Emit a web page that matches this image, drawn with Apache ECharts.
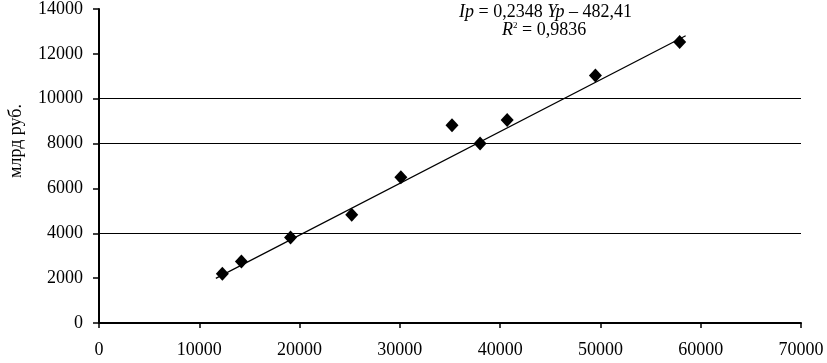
<!DOCTYPE html>
<html>
<head>
<meta charset="utf-8">
<script src="https://cdn.jsdelivr.net/npm/echarts@6/dist/echarts.min.js"></script>
<style>
  html, body { margin: 0; padding: 0; background: #fff; }
  #chart { width: 827px; height: 363px; }
</style>
</head>
<body>
<div id="chart"></div>
<script>
// точки (Yp, Ip)
var xData = [12300, 14200, 19100, 25200, 30100, 35200, 38000, 40700, 49500, 57900]
var yData = [2200, 2740, 3810, 4830, 6500, 8820, 8000, 9050, 11030, 12530]
// линия тренда: концы
var trendX = [11650, 58500]
var trendY = [1990, 12810]
// линии сетки, что видны на рисунке
var gridValues = [4000, 8000, 10000]

var chartDom = document.getElementById('chart')
var chart = echarts.init(chartDom)

var font = '"Liberation Serif", "Times New Roman", serif'

function toPairs(xs, ys) {
  return xs.map(function (x, i) { return [x, ys[i]] })
}

function plain(v) {
  return String(v)
}

var option = {
  animation: false,
  grid: {
    left: 99,
    right: 26,
    top: 5,
    bottom: 40
  },
  xAxis: {
    type: 'value',
    min: 0,
    max: 70000,
    interval: 10000,
    axisLine: { show: true, lineStyle: { color: '#000', width: 2 } },
    axisTick: { show: true, length: 5, lineStyle: { color: '#000', width: 1.5 } },
    axisLabel: { color: '#000', fontFamily: font, fontSize: 18, margin: 18, formatter: plain },
    splitLine: { show: false }
  },
  yAxis: {
    type: 'value',
    min: 0,
    max: 14000,
    interval: 2000,
    axisLine: { show: true, lineStyle: { color: '#000', width: 2 } },
    axisTick: { show: true, length: 6, lineStyle: { color: '#000', width: 1.5 } },
    axisLabel: { color: '#000', fontFamily: font, fontSize: 18, margin: 16, formatter: plain },
    splitLine: { show: false }
  },
  graphic: [
    {
      type: 'text',
      x: 16,
      y: 141,
      rotation: Math.PI / 2,
      style: {
        text: 'млрд руб.',
        fill: '#000',
        font: '18px ' + font,
        align: 'center',
        verticalAlign: 'middle'
      }
    },
    {
      type: 'text',
      x: 459,
      y: 3,
      style: {
        rich: {
          i: { fontFamily: font, fontStyle: 'italic', fontSize: 18, fill: '#000' },
          n: { fontFamily: font, fontSize: 18, fill: '#000' }
        },
        text: '{i|Ip}{n| = 0,2348 }{i|Yp}{n| – 482,41}'
      }
    },
    {
      type: 'text',
      x: 502,
      y: 21,
      style: {
        rich: {
          i: { fontFamily: font, fontStyle: 'italic', fontSize: 18, fill: '#000' },
          s: { fontFamily: font, fontSize: 9, fill: '#000', verticalAlign: 'top', padding: [0, 0, 9, 0] },
          n: { fontFamily: font, fontSize: 18, fill: '#000' }
        },
        text: '{i|R}{s|2}{n| = 0,9836}'
      }
    }
  ],
  series: [
    {
      type: 'line',
      data: toPairs(trendX, trendY),
      symbol: 'none',
      lineStyle: { color: '#000', width: 1.2 },
      markLine: {
        silent: true,
        symbol: 'none',
        label: { show: false },
        lineStyle: { color: '#000', width: 1, type: 'solid' },
        data: gridValues.map(function (v) { return { yAxis: v } })
      },
      z: 2
    },
    {
      type: 'scatter',
      data: toPairs(xData, yData),
      symbol: 'diamond',
      symbolSize: [13, 14],
      itemStyle: { color: '#000', opacity: 1 },
      z: 3
    }
  ]
}

chart.setOption(option)
</script>
</body>
</html>
